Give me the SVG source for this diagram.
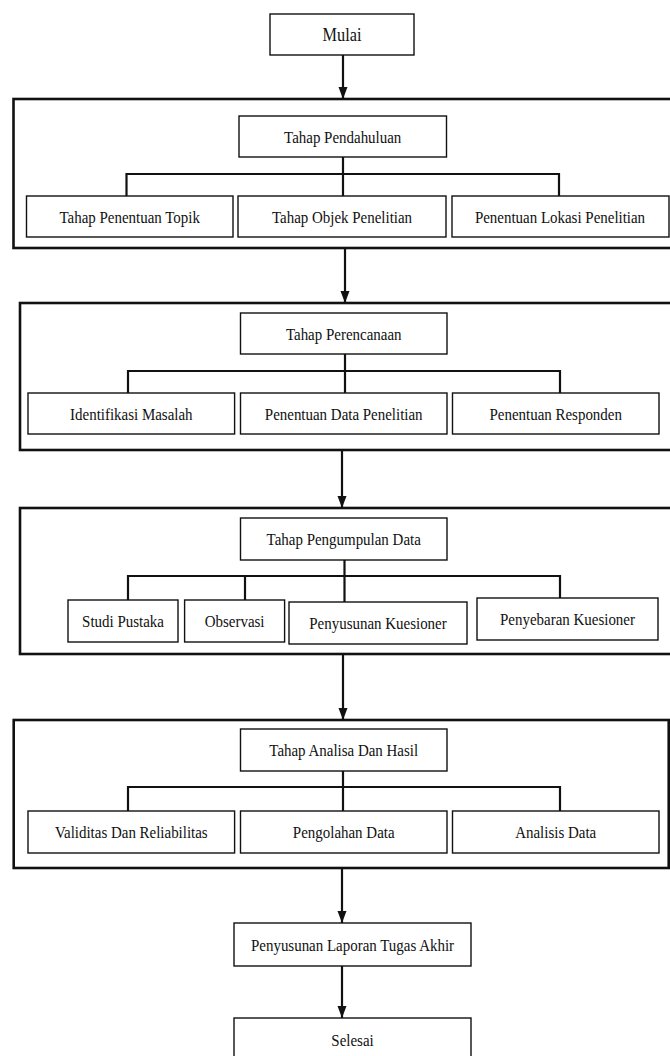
<svg xmlns="http://www.w3.org/2000/svg" width="670" height="1056" viewBox="0 0 670 1056">
<style>
.bx{fill:#fff;stroke:#111;stroke-width:1.4}
.ct{fill:none;stroke:#111;stroke-width:2.6}
.ln{fill:none;stroke:#111;stroke-width:2.2}
.ar{fill:none;stroke:#111;stroke-width:2.2;marker-end:url(#ah)}
text{font-family:"Liberation Serif","Times New Roman",serif;font-size:17px;fill:#111;text-anchor:middle}
</style>
<defs>
<marker id="ah" markerUnits="userSpaceOnUse" markerWidth="13" markerHeight="10" refX="12" refY="5" orient="auto" viewBox="0 0 13 10">
<path d="M0,0.5 L12,5 L0,9.5 z" fill="#111"/>
</marker>
</defs>
<rect width="670" height="1056" fill="#fff"/>

<g id="containers">
<rect class="ct" x="13.5" y="99" width="665" height="149"/>
<rect class="ct" x="20" y="303" width="660" height="147"/>
<rect class="ct" x="20" y="508" width="660" height="146"/>
<rect class="ct" x="13.7" y="720" width="655" height="148"/>
</g>

<g id="connectors">
<line class="ar" x1="343" y1="55" x2="343" y2="99"/>
<line class="ar" x1="345" y1="248" x2="345" y2="303"/>
<line class="ar" x1="342" y1="450" x2="342" y2="508"/>
<line class="ar" x1="343" y1="654" x2="343" y2="720"/>
<line class="ar" x1="342" y1="868" x2="342" y2="923"/>
<line class="ar" x1="342" y1="966" x2="342" y2="1018"/>
<path class="ln" d="M343,157 V196 M126.5,196 V174 H559 V196"/>
<path class="ln" d="M345,354 V393 M128,393 V371 H560 V393"/>
<path class="ln" d="M344.5,560 V602 M128,600 V576 H560 V598 M245,576 V600"/>
<path class="ln" d="M343,771 V811 M128,811 V787 H560 V811"/>
</g>

<g id="mulai"><rect class="bx" x="270" y="14" width="144" height="41"/><text transform="translate(342,41) scale(0.88,1)" style="font-size:18.5px">Mulai</text></g>

<g id="pendahuluan"><rect class="bx" x="239" y="116" width="207.5" height="41"/><text transform="translate(342.7,142.5) scale(0.88,1)">Tahap Pendahuluan</text></g>
<g id="topik"><rect class="bx" x="26.5" y="196" width="206.5" height="41"/><text transform="translate(129.7,222.5) scale(0.88,1)">Tahap Penentuan Topik</text></g>
<g id="objek"><rect class="bx" x="238" y="196" width="208" height="41"/><text transform="translate(342,222.5) scale(0.88,1)">Tahap Objek Penelitian</text></g>
<g id="lokasi"><rect class="bx" x="452" y="196" width="217" height="41"/><text transform="translate(560,222.5) scale(0.88,1)">Penentuan Lokasi Penelitian</text></g>

<g id="perencanaan"><rect class="bx" x="240.5" y="313" width="206.5" height="41"/><text transform="translate(343.7,339.5) scale(0.88,1)">Tahap Perencanaan</text></g>
<g id="identifikasi"><rect class="bx" x="28" y="393" width="206.6" height="41"/><text transform="translate(131.3,419.5) scale(0.88,1)">Identifikasi Masalah</text></g>
<g id="datapenelitian"><rect class="bx" x="240.5" y="393" width="206.5" height="41"/><text transform="translate(343.7,419.5) scale(0.88,1)">Penentuan Data Penelitian</text></g>
<g id="responden"><rect class="bx" x="452.5" y="393" width="206.5" height="41"/><text transform="translate(555.7,419.5) scale(0.88,1)">Penentuan Responden</text></g>

<g id="pengumpulan"><rect class="bx" x="240.5" y="518" width="206.5" height="42"/><text transform="translate(343.7,545) scale(0.88,1)">Tahap Pengumpulan Data</text></g>
<g id="studi"><rect class="bx" x="68" y="600" width="110" height="42"/><text transform="translate(123,627) scale(0.88,1)">Studi Pustaka</text></g>
<g id="observasi"><rect class="bx" x="184.6" y="600" width="100" height="42"/><text transform="translate(234.6,627) scale(0.88,1)">Observasi</text></g>
<g id="penyusunan"><rect class="bx" x="289" y="602" width="178" height="42"/><text transform="translate(378,629) scale(0.88,1)">Penyusunan Kuesioner</text></g>
<g id="penyebaran"><rect class="bx" x="477" y="598" width="181" height="42"/><text transform="translate(567.5,624.5) scale(0.88,1)">Penyebaran Kuesioner</text></g>

<g id="analisa"><rect class="bx" x="240.5" y="729" width="206.5" height="42"/><text transform="translate(343.7,756) scale(0.88,1)">Tahap Analisa Dan Hasil</text></g>
<g id="validitas"><rect class="bx" x="28" y="811" width="206.6" height="42"/><text transform="translate(131.3,838) scale(0.88,1)">Validitas Dan Reliabilitas</text></g>
<g id="pengolahan"><rect class="bx" x="240.5" y="811" width="206.5" height="42"/><text transform="translate(343.7,838) scale(0.88,1)">Pengolahan Data</text></g>
<g id="analisis"><rect class="bx" x="452.5" y="811" width="206.5" height="42"/><text transform="translate(555.7,838) scale(0.88,1)">Analisis Data</text></g>

<g id="laporan"><rect class="bx" x="234" y="923" width="237" height="43"/><text transform="translate(352.5,950.5) scale(0.88,1)">Penyusunan Laporan Tugas Akhir</text></g>
<g id="selesai"><rect class="bx" x="234" y="1018" width="237" height="52"/><text transform="translate(352.5,1046) scale(0.88,1)">Selesai</text></g>
</svg>
